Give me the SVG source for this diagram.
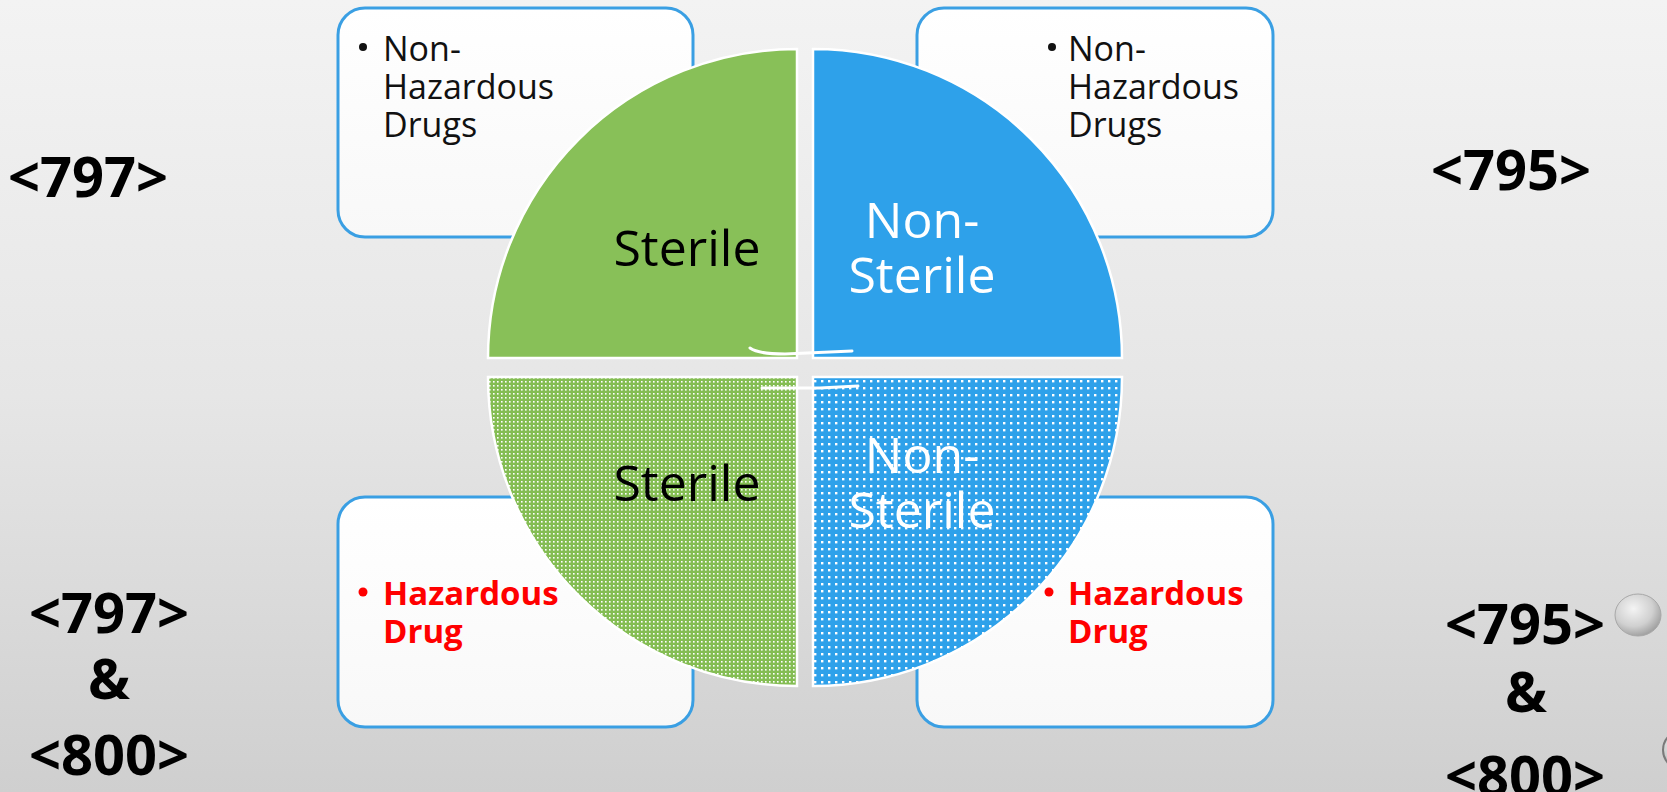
<svg xmlns="http://www.w3.org/2000/svg" width="1667" height="792" viewBox="0 0 1667 792">
<defs>
<linearGradient id="bg" x1="0" y1="0" x2="0" y2="1">
<stop offset="0" stop-color="#f3f3f3"/>
<stop offset="0.5" stop-color="#e6e6e6"/>
<stop offset="1" stop-color="#cfcfcf"/>
</linearGradient>
<linearGradient id="boxfill" x1="0" y1="0" x2="0" y2="1">
<stop offset="0" stop-color="#ffffff"/>
<stop offset="1" stop-color="#f8f8f8"/>
</linearGradient>
<radialGradient id="bead" cx="0.4" cy="0.35" r="0.7">
<stop offset="0" stop-color="#f4f4f4"/>
<stop offset="0.6" stop-color="#d0d0d0"/>
<stop offset="1" stop-color="#9a9a9a"/>
</radialGradient>
<pattern id="pgreen" width="4" height="4" patternUnits="userSpaceOnUse">
<rect width="4" height="4" fill="#84bd53"/>
<rect x="1" y="1" width="1.6" height="1.6" fill="#ffffff"/>
</pattern>
<pattern id="pblue" width="7" height="7" patternUnits="userSpaceOnUse">
<rect width="7" height="7" fill="#2ea1ea"/>
<rect x="2" y="2" width="2.4" height="2.4" fill="#ffffff"/>
</pattern>
</defs>
<style>
.box{fill:url(#boxfill);stroke:#3a9fe3;stroke-width:3}
.pie{stroke:#ffffff;stroke-width:2.5}
.item{font-family:"Open Sans","DejaVu Sans",sans-serif;font-size:34px;fill:#111111}
.haz{font-family:"Open Sans","DejaVu Sans",sans-serif;font-size:33px;font-weight:bold;fill:#ff0000}
.big{font-family:"Open Sans","DejaVu Sans",sans-serif;font-size:50px;text-anchor:middle}
.side{font-family:"Open Sans","DejaVu Sans",sans-serif;font-size:56px;font-weight:bold;fill:#000000;text-anchor:middle}
.stroke{fill:none;stroke:#ffffff;stroke-width:3;stroke-linecap:round}
</style>
<rect width="1667" height="792" fill="url(#bg)"/>

<g id="box-tl">
<rect class="box" x="338" y="8" width="355" height="229" rx="27"/>
<circle cx="363" cy="47" r="4" fill="#111"/>
<text class="item" x="383" y="61">Non-</text>
<text class="item" x="383" y="99">Hazardous</text>
<text class="item" x="383" y="137">Drugs</text>
</g>
<g id="box-tr">
<rect class="box" x="917" y="8" width="356" height="229" rx="27"/>
<circle cx="1052" cy="47" r="4" fill="#111"/>
<text class="item" x="1068" y="61">Non-</text>
<text class="item" x="1068" y="99">Hazardous</text>
<text class="item" x="1068" y="137">Drugs</text>
</g>
<g id="box-bl">
<rect class="box" x="338" y="497" width="355" height="230" rx="27"/>
<circle cx="363" cy="592" r="4.5" fill="#ff0000"/>
<text class="haz" x="383" y="605">Hazardous</text>
<text class="haz" x="383" y="643">Drug</text>
</g>
<g id="box-br">
<rect class="box" x="917" y="497" width="356" height="230" rx="27"/>
<circle cx="1049" cy="592" r="4.5" fill="#ff0000"/>
<text class="haz" x="1068" y="605">Hazardous</text>
<text class="haz" x="1068" y="643">Drug</text>
</g>

<g id="pie-tl">
<path class="pie" d="M797,358 L488,358 A309,309 0 0 1 797,49 Z" fill="#88c058"/>
<text class="big" x="687" y="266" fill="#000000">Sterile</text>
</g>
<g id="pie-tr">
<path class="pie" d="M813,358 L813,49 A309,309 0 0 1 1122,358 Z" fill="#2ea1ea"/>
<text class="big" x="922" y="238" fill="#ffffff">Non-</text>
<text class="big" x="922" y="293" fill="#ffffff">Sterile</text>
</g>
<g id="pie-bl">
<path class="pie" d="M797,377 L797,686 A309,309 0 0 1 488,377 Z" fill="url(#pgreen)"/>
<text class="big" x="687" y="501" fill="#000000">Sterile</text>
</g>
<g id="pie-br">
<path class="pie" d="M813,377 L1122,377 A309,309 0 0 1 813,686 Z" fill="url(#pblue)"/>
<text class="big" x="922" y="473" fill="#ffffff">Non-</text>
<text class="big" x="922" y="528" fill="#ffffff">Sterile</text>
</g>

<g id="connectors">
<path class="stroke" d="M750,348 Q758,354 785,354 L852,351"/>
<path class="stroke" d="M762,388 L820,388 L858,386"/>
</g>

<g id="label-797">
<text class="side" x="88" y="197">&lt;797&gt;</text>
</g>
<g id="label-795">
<text class="side" x="1511" y="190">&lt;795&gt;</text>
</g>
<g id="label-797-800">
<text class="side" x="109" y="633">&lt;797&gt;</text>
<text class="side" x="109" y="699">&amp;</text>
<text class="side" x="109" y="775">&lt;800&gt;</text>
</g>
<g id="label-795-800">
<text class="side" x="1525" y="644">&lt;795&gt;</text>
<text class="side" x="1526" y="712">&amp;</text>
<text class="side" x="1525" y="796">&lt;800&gt;</text>
</g>
<ellipse cx="1638" cy="615" rx="23" ry="21" fill="url(#bead)" stroke="#a8a8a8" stroke-width="1"/>
<ellipse cx="1686" cy="750" rx="23" ry="21" fill="url(#bead)" stroke="#7a7a7a" stroke-width="2"/>
</svg>
